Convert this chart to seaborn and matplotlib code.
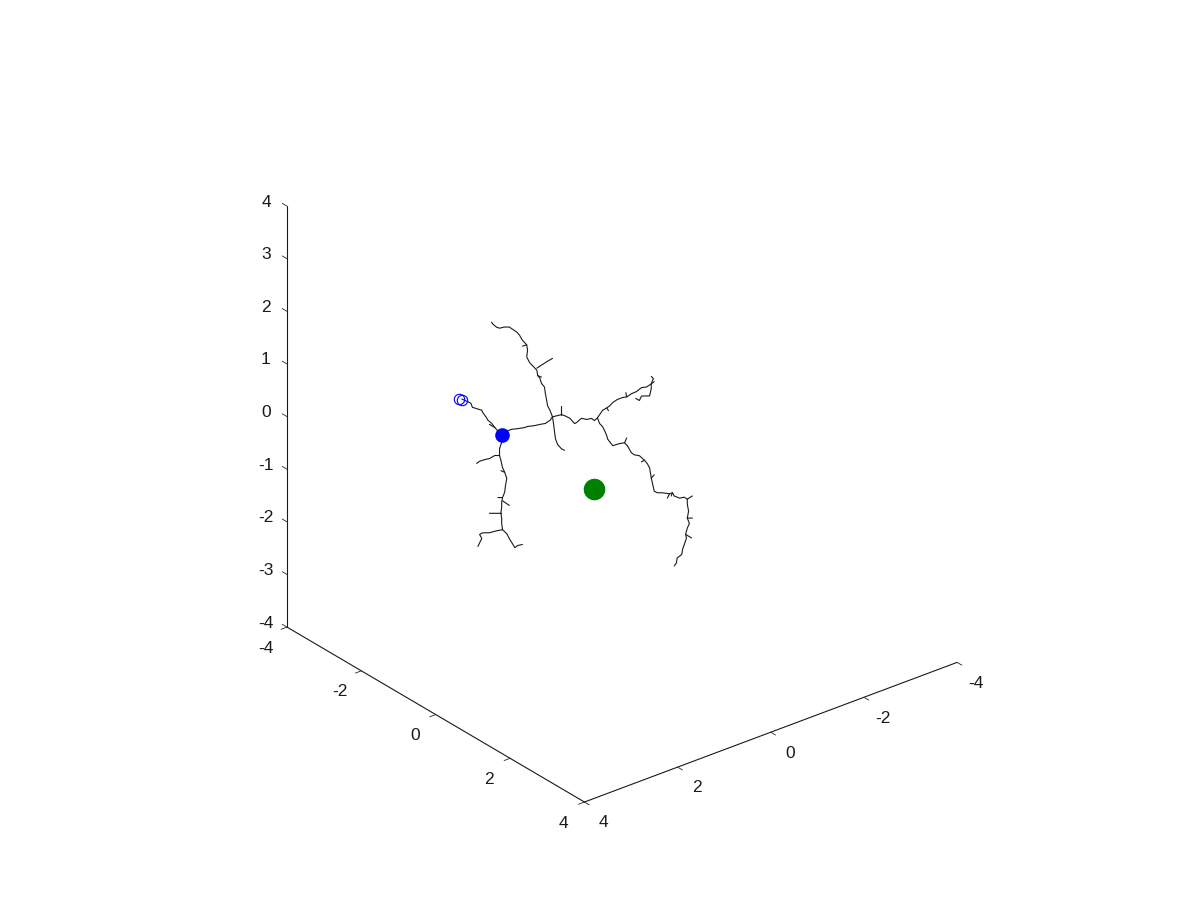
import matplotlib
matplotlib.use("Agg")
import matplotlib.pyplot as plt
import seaborn as sns
from mpl_toolkits.mplot3d import proj3d

sns.set_theme(style="white")
plt.rcParams['font.family'] = ['Liberation Sans', 'DejaVu Sans']
plt.rcParams['axes.unicode_minus'] = False

# tree branches as (x, y, z) points
axon = [(1.57, -1.27, -0.03), (1.66, -1.34, 0.12), (1.70, -1.38, 0.20), (1.75, -1.42, 0.26),
        (1.77, -1.43, 0.31), (1.82, -1.47, 0.41), (1.83, -1.48, 0.45), (1.88, -1.52, 0.47),
        (1.92, -1.55, 0.49), (1.95, -1.58, 0.50), (1.97, -1.60, 0.58), (2.03, -1.64, 0.62),
        (2.09, -1.69, 0.66)]
trunk = [(1.57, -1.27, -0.03), (1.50, -1.22, 0.05), (1.44, -1.16, 0.09), (1.36, -1.10, 0.10),
         (1.27, -1.03, 0.12), (1.23, -1.00, 0.14), (1.14, -0.92, 0.16), (1.07, -0.87, 0.18),
         (1.00, -0.81, 0.20), (0.94, -0.76, 0.26), (0.91, -0.73, 0.33)]
upper = [(0.91, -0.73, 0.33), (0.94, -0.76, 0.45), (0.97, -0.79, 0.54), (0.98, -0.80, 0.64),
         (1.00, -0.81, 0.77), (1.01, -0.82, 0.89), (1.05, -0.85, 0.96), (1.07, -0.87, 1.06),
         (1.10, -0.89, 1.11), (1.11, -0.90, 1.21), (1.17, -0.94, 1.30), (1.21, -0.97, 1.36),
         (1.24, -1.01, 1.46), (1.23, -1.00, 1.59), (1.24, -1.01, 1.69), (1.30, -1.05, 1.78),
         (1.34, -1.08, 1.88), (1.37, -1.11, 1.93), (1.43, -1.15, 1.99), (1.47, -1.19, 2.03),
         (1.53, -1.24, 2.03), (1.60, -1.29, 2.01), (1.64, -1.32, 2.03), (1.69, -1.36, 2.09),
         (1.70, -1.38, 2.12)]
upper_twig = [(1.11, -0.90, 1.25), (1.04, -0.84, 1.32), (0.97, -0.79, 1.38), (0.91, -0.73, 1.44)]
middle = [(0.91, -0.73, 0.33), (0.84, -0.68, 0.35), (0.79, -0.64, 0.37), (0.75, -0.61, 0.35),
          (0.68, -0.55, 0.30), (0.62, -0.50, 0.20), (0.59, -0.48, 0.22), (0.53, -0.43, 0.30),
          (0.46, -0.37, 0.28), (0.40, -0.32, 0.30), (0.36, -0.29, 0.26), (0.32, -0.26, 0.31)]
right_up = [(0.32, -0.26, 0.31), (0.25, -0.21, 0.45), (0.20, -0.16, 0.50), (0.16, -0.13, 0.54),
            (0.12, -0.10, 0.60), (0.06, -0.05, 0.66), (-0.01, 0.01, 0.70), (-0.06, 0.05, 0.71),
            (-0.12, 0.10, 0.77), (-0.19, 0.15, 0.81), (-0.25, 0.21, 0.89), (-0.32, 0.26, 0.90),
            (-0.38, 0.31, 0.96), (-0.42, 0.34, 1.00)]
right_hook = [(-0.38, 0.31, 0.96), (-0.38, 0.31, 0.87), (-0.36, 0.29, 0.73), (-0.25, 0.21, 0.73),
              (-0.23, 0.18, 0.64), (-0.18, 0.14, 0.68)]
right_tip = [(-0.38, 0.31, 0.96), (-0.41, 0.33, 1.06), (-0.38, 0.31, 1.10)]
right_down = [(0.32, -0.26, 0.31), (0.29, -0.24, 0.20), (0.25, -0.21, 0.14), (0.23, -0.18, 0.07),
              (0.20, -0.16, -0.03), (0.19, -0.15, -0.09), (0.12, -0.10, -0.22), (0.03, -0.03, -0.18),
              (-0.03, 0.03, -0.16), (-0.07, 0.06, -0.22), (-0.12, 0.10, -0.35), (-0.16, 0.13, -0.39),
              (-0.23, 0.18, -0.41), (-0.29, 0.24, -0.49), (-0.33, 0.27, -0.56), (-0.36, 0.29, -0.64),
              (-0.37, 0.30, -0.73), (-0.38, 0.31, -0.83), (-0.40, 0.32, -0.94), (-0.42, 0.34, -1.08),
              (-0.46, 0.37, -1.11), (-0.53, 0.43, -1.11), (-0.62, 0.50, -1.13), (-0.66, 0.53, -1.11),
              (-0.68, 0.55, -1.17), (-0.75, 0.61, -1.21), (-0.81, 0.66, -1.19), (-0.85, 0.69, -1.23),
              (-0.85, 0.69, -1.32), (-0.87, 0.70, -1.46), (-0.85, 0.69, -1.59), (-0.88, 0.71, -1.69),
              (-0.85, 0.69, -1.78), (-0.83, 0.67, -1.90), (-0.84, 0.68, -1.97), (-0.81, 0.66, -2.09),
              (-0.79, 0.64, -2.18), (-0.78, 0.63, -2.28), (-0.72, 0.58, -2.35), (-0.71, 0.57, -2.45),
              (-0.68, 0.55, -2.50)]
short_down = [(0.91, -0.73, 0.33), (0.89, -0.72, 0.16), (0.88, -0.71, 0.03), (0.87, -0.70, -0.09),
              (0.84, -0.68, -0.20), (0.79, -0.64, -0.28), (0.75, -0.61, -0.31)]
lower = [(1.57, -1.27, -0.03), (1.57, -1.27, -0.16), (1.60, -1.29, -0.28), (1.60, -1.29, -0.41),
         (1.58, -1.28, -0.50), (1.56, -1.26, -0.64), (1.53, -1.24, -0.73), (1.50, -1.22, -0.85),
         (1.52, -1.23, -0.98), (1.53, -1.24, -1.11), (1.56, -1.26, -1.21), (1.57, -1.27, -1.30),
         (1.57, -1.27, -1.40), (1.58, -1.28, -1.50), (1.57, -1.27, -1.61), (1.57, -1.27, -1.70),
         (1.56, -1.26, -1.82), (1.50, -1.22, -1.90), (1.47, -1.19, -1.99), (1.43, -1.15, -2.09),
         (1.40, -1.13, -2.16), (1.36, -1.10, -2.12), (1.30, -1.05, -2.10)]
lower_left = [(1.60, -1.29, -0.41), (1.66, -1.34, -0.41), (1.73, -1.40, -0.47), (1.79, -1.45, -0.49),
              (1.86, -1.50, -0.52), (1.90, -1.53, -0.56)]
lower_foot = [(1.56, -1.26, -1.82), (1.64, -1.32, -1.84), (1.73, -1.40, -1.88), (1.82, -1.47, -1.88),
              (1.86, -1.50, -1.91), (1.83, -1.48, -1.99), (1.86, -1.50, -2.07), (1.88, -1.52, -2.14)]
twigs = [
    [(0.79, -0.64, 0.37), (0.79, -0.64, 0.54)],
    [(-0.06, 0.05, 0.71), (-0.05, 0.04, 0.79)],
    [(0.20, -0.16, 0.50), (0.18, -0.14, 0.45)],
    [(-0.03, 0.03, -0.16), (-0.06, 0.05, -0.07)],
    [(-0.62, 0.50, -1.13), (-0.59, 0.48, -1.21)],
    [(-0.85, 0.69, -1.23), (-0.92, 0.74, -1.17)],
    [(-0.85, 0.69, -1.59), (-0.92, 0.74, -1.59)],
    [(-0.83, 0.67, -1.90), (-0.91, 0.73, -1.97)],
    [(-0.38, 0.31, -0.83), (-0.42, 0.34, -0.77)],
    [(1.56, -1.26, -1.21), (1.62, -1.31, -1.21)],
    [(1.56, -1.26, -1.27), (1.47, -1.19, -1.36)],
    [(1.57, -1.27, -1.51), (1.73, -1.40, -1.51)],
    [(1.66, -1.34, 0.12), (1.73, -1.40, 0.18)],
    [(1.24, -1.01, 1.69), (1.30, -1.05, 1.67)],
    [(1.10, -0.89, 1.11), (1.05, -0.85, 1.08)],
    [(1.53, -1.24, -0.73), (1.58, -1.28, -0.70)],
    [(-0.29, 0.24, -0.49), (-0.25, 0.21, -0.52)],
    [(-0.66, 0.53, -1.11), (-0.64, 0.52, -1.17)],
]
branches = [axon, trunk, upper, upper_twig, middle, right_up, right_hook, right_tip,
            right_down, short_down, lower, lower_left, lower_foot] + twigs

start_pts = [(2.13, -1.72, 0.67), (2.09, -1.69, 0.64)]
soma = (1.57, -1.27, -0.03)
target = (0.37, -0.30, -1.04)

xy_ticks = [-4, -2, 0, 2, 4]
z_ticks = [-4, -3, -2, -1, 0, 1, 2, 3, 4]

fig = plt.figure(figsize=(12, 9), dpi=100)
ax = fig.add_axes([0.1226, 0.099, 0.775, 0.815], projection='3d')
ax.set_proj_type('ortho')
ax.view_init(elev=28, azim=51.4)
ax.set_box_aspect((1, 1, 1), zoom=1.093)

for br in branches:
    xs, ys, zs = zip(*br)
    ax.plot(xs, ys, zs, color='k', lw=0.8)

for p in start_pts:
    ax.plot([p[0]], [p[1]], [p[2]], 'o', mfc='none', mec='blue', ms=7.5, mew=0.8)
ax.plot([soma[0]], [soma[1]], [soma[2]], 'o', color='blue', ms=9.5)
ax.plot([target[0]], [target[1]], [target[2]], 'o', color='green', ms=14.5)

ax.set_xlim(-4, 4)
ax.set_ylim(-4, 4)
ax.set_zlim(-4, 4)
ax.set_xticks(xy_ticks)
ax.set_yticks(xy_ticks)
ax.set_zticks(z_ticks)
ax.grid(False)
for a in (ax.xaxis, ax.yaxis, ax.zaxis):
    a.set_pane_color((1, 1, 1, 0))
    a.pane.set_edgecolor((1, 1, 1, 0))
    a.line.set_color('k')
    a.line.set_linewidth(0.8)
    a.set_tick_params(which='both', label1On=False, label2On=False)
    a._axinfo['tick']['inward_factor'] = 0.2
    a._axinfo['tick']['outward_factor'] = 0.0
    a._axinfo['tick']['color'] = 'k'
    a._axinfo['tick']['linewidth'] = {True: 0.6, False: 0.5}
# matlab draws the vertical ticks along the y direction, pointing away from the box
ax.zaxis._get_tickdir = lambda *args: 1
ax.zaxis._axinfo['tick']['inward_factor'] = 0.0
ax.zaxis._axinfo['tick']['outward_factor'] = 0.2

# tick labels placed like matlab does, just outside the box edges
fig.canvas.draw()
M = ax.M


def put_label(x, y, z, s):
    px, py, _ = proj3d.proj_transform(x, y, z, M)
    ax.text2D(px, py, s, transform=ax.transData, ha='center', va='center',
              fontsize=12.5, color='k')


for v in xy_ticks:
    put_label(4.45, v, -4.25, str(v))
    put_label(v, 4.52, -4.18, str(v))
for v in z_ticks:
    put_label(4.14, -4.39, v - 0.04, str(v))

fig.savefig("out.png", dpi=100)
